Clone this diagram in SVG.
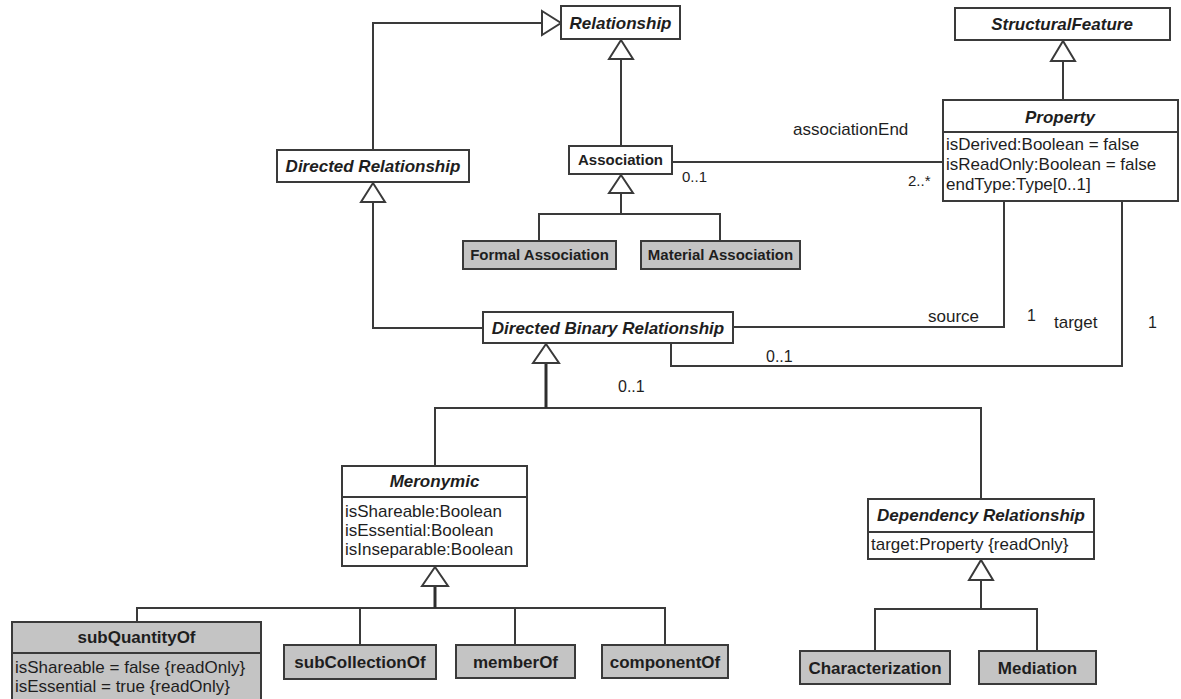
<svg xmlns="http://www.w3.org/2000/svg" width="1181" height="699" viewBox="0 0 1181 699">
  <style>
    text { font-family: "Liberation Sans", Arial, sans-serif; fill: #1e1e1e; }
    .box { fill: #ffffff; stroke: #3a3a3a; stroke-width: 2; }
    .gray { fill: #c4c4c4; stroke: #3a3a3a; stroke-width: 2; }
    .sep { stroke: #3a3a3a; stroke-width: 2; }
    .title { font-size: 17px; font-weight: bold; font-style: italic; text-anchor: middle; }
    .plain { font-size: 15px; font-weight: bold; text-anchor: middle; }
    .small { font-size: 17px; font-weight: bold; text-anchor: middle; }
    .attr { font-size: 17px; }
    .lbl { font-size: 16px; }
    .line { fill: none; stroke: #3a3a3a; stroke-width: 2; }
    .trunk { fill: none; stroke: #2e2e2e; stroke-width: 3; }
    .head { fill: #ffffff; stroke: #3a3a3a; stroke-width: 2; stroke-linejoin: miter; }
  </style>

  <!-- connectors -->
  <g id="connectors">
    <!-- Directed Relationship generalizes Relationship -->
    <path class="line" d="M373,150 V23 H542"/>
    <polygon class="head" points="542,11 561,23 542,35"/>
    <!-- Association generalizes Relationship -->
    <path class="line" d="M621,146 V59"/>
    <polygon class="head" points="609,59 621,40 633,59"/>
    <!-- Property generalizes StructuralFeature -->
    <path class="line" d="M1063,100 V61"/>
    <polygon class="head" points="1051,61 1063,41 1075,61"/>
    <!-- Formal / Material Association -->
    <path class="line" d="M539,241 V214 H720 V241"/>
    <path class="line" d="M621,214 V193"/>
    <polygon class="head" points="609,193 621,175 633,193"/>
    <!-- associationEnd -->
    <path class="line" d="M672,162 H943"/>
    <!-- Directed Binary Relationship generalizes Directed Relationship -->
    <path class="line" d="M483,328 H373 V202"/>
    <polygon class="head" points="361,202 373,183 385,202"/>
    <!-- source / target -->
    <path class="line" d="M733,327 H1004 V201"/>
    <path class="line" d="M671,343 V366 H1122 V201"/>
    <!-- Meronymic / Dependency Relationship -->
    <path class="line" d="M435,466 V408 H981 V499"/>
    <path class="trunk" d="M546,408 V363"/>
    <polygon class="head" points="533,363 546,344 559,363"/>
    <!-- Meronymic subtypes -->
    <path class="line" d="M137,622 V608 H665 V645"/>
    <path class="line" d="M360,645 V608"/>
    <path class="line" d="M515,645 V608"/>
    <path class="trunk" d="M435,608 V586"/>
    <polygon class="head" points="422,586 435,567 448,586"/>
    <!-- Dependency subtypes -->
    <path class="line" d="M875,651 V609 H1037 V651"/>
    <path class="line" d="M981,609 V580"/>
    <polygon class="head" points="969,580 981,560 993,580"/>
  </g>

  <!-- connector labels -->
  <g id="labels">
    <text class="lbl" x="793" y="135" style="font-size:17px">associationEnd</text>
    <text class="lbl" x="682" y="182" style="font-size:15px">0..1</text>
    <text class="lbl" x="908" y="186" style="font-size:15px">2..*</text>
    <text class="lbl" x="928" y="322" style="font-size:17px">source</text>
    <text class="lbl" x="1027" y="321">1</text>
    <text class="lbl" x="1054" y="328" style="font-size:17px">target</text>
    <text class="lbl" x="1148" y="328">1</text>
    <text class="lbl" x="766" y="362">0..1</text>
    <text class="lbl" x="618" y="392">0..1</text>
  </g>

  <g id="Relationship">
    <rect class="box" x="561" y="6" width="119" height="33"/>
    <text class="title" x="620.5" y="29">Relationship</text>
  </g>

  <g id="StructuralFeature">
    <rect class="box" x="955" y="8" width="215" height="32"/>
    <text class="title" x="1062" y="30">StructuralFeature</text>
  </g>

  <g id="Property">
    <rect class="box" x="943" y="100" width="235" height="101"/>
    <line class="sep" x1="943" y1="132" x2="1178" y2="132"/>
    <text class="title" x="1060" y="123">Property</text>
    <text class="attr" x="946" y="150">isDerived:Boolean = false</text>
    <text class="attr" x="946" y="170">isReadOnly:Boolean = false</text>
    <text class="attr" x="946" y="190">endType:Type[0..1]</text>
  </g>

  <g id="Association">
    <rect class="box" x="569" y="146" width="103" height="28"/>
    <text class="plain" x="620.5" y="165">Association</text>
  </g>

  <g id="FormalAssociation">
    <rect class="gray" x="463" y="241" width="153" height="28"/>
    <text class="plain" x="539.5" y="260">Formal Association</text>
  </g>

  <g id="MaterialAssociation">
    <rect class="gray" x="641" y="241" width="159" height="28"/>
    <text class="plain" x="720.5" y="260">Material Association</text>
  </g>

  <g id="DirectedRelationship">
    <rect class="box" x="277" y="150" width="192" height="32"/>
    <text class="title" x="373" y="172">Directed Relationship</text>
  </g>

  <g id="DirectedBinaryRelationship">
    <rect class="box" x="483" y="312" width="250" height="31"/>
    <text class="title" x="608" y="333.5">Directed Binary Relationship</text>
  </g>

  <g id="Meronymic">
    <rect class="box" x="342" y="466" width="185" height="100"/>
    <line class="sep" x1="342" y1="497" x2="527" y2="497"/>
    <text class="title" x="434.5" y="487">Meronymic</text>
    <text class="attr" x="345" y="517">isShareable:Boolean</text>
    <text class="attr" x="345" y="536">isEssential:Boolean</text>
    <text class="attr" x="345" y="555">isInseparable:Boolean</text>
  </g>

  <g id="DependencyRelationship">
    <rect class="box" x="868" y="499" width="226" height="60"/>
    <line class="sep" x1="868" y1="532" x2="1094" y2="532"/>
    <text class="title" x="981" y="521">Dependency Relationship</text>
    <text class="attr" x="871" y="550">target:Property {readOnly}</text>
  </g>

  <g id="subQuantityOf">
    <rect class="gray" x="12" y="622" width="249" height="82"/>
    <line class="sep" x1="12" y1="653" x2="261" y2="653"/>
    <text class="small" x="136.5" y="643">subQuantityOf</text>
    <text class="attr" x="15" y="673">isShareable = false {readOnly}</text>
    <text class="attr" x="15" y="692">isEssential = true {readOnly}</text>
  </g>

  <g id="subCollectionOf">
    <rect class="gray" x="284" y="645" width="152" height="34"/>
    <text class="small" x="360" y="668">subCollectionOf</text>
  </g>

  <g id="memberOf">
    <rect class="gray" x="456" y="645" width="119" height="33"/>
    <text class="small" x="515.5" y="667.5">memberOf</text>
  </g>

  <g id="componentOf">
    <rect class="gray" x="602" y="645" width="126" height="33"/>
    <text class="small" x="665" y="667.5">componentOf</text>
  </g>

  <g id="Characterization">
    <rect class="gray" x="800" y="651" width="150" height="33"/>
    <text class="small" x="875" y="673.5">Characterization</text>
  </g>

  <g id="Mediation">
    <rect class="gray" x="979" y="651" width="117" height="33"/>
    <text class="small" x="1037.5" y="673.5">Mediation</text>
  </g>
</svg>
